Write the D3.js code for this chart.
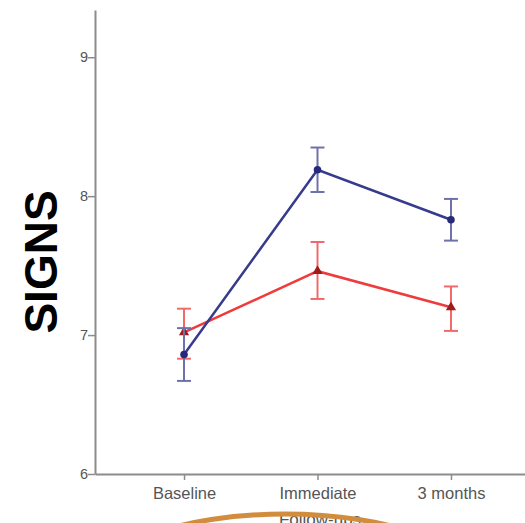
<!DOCTYPE html>
<html>
<head>
<meta charset="utf-8">
<script src="https://cdn.jsdelivr.net/npm/d3@7"></script>
<style>
  body { margin: 0; background: #fff; }
  svg { display: block; font-family: "Liberation Sans", Arial, sans-serif; }
</style>
</head>
<body>
<div class="chart"></div>
<script>
// time points
const followUps = ["Baseline", "Immediate", "3 months"];

// blue group: mean, lower, upper
const blueMean = [6.86, 8.19, 7.83];
const blueLow = [6.67, 8.03, 7.68];
const blueHigh = [7.05, 8.35, 7.98];

// red group: mean, lower, upper
const redMean = [7.02, 7.46, 7.20];
const redLow = [6.83, 7.26, 7.03];
const redHigh = [7.19, 7.67, 7.35];

const yTicks = [6, 7, 8, 9];

const width = 525, height = 523;

const svg = d3.select(".chart")
  .append("svg")
    .attr("width", width)
    .attr("height", height);

const x = d3.scalePoint()
  .domain(followUps)
  .range([95, 540])
  .padding(0.667);

const y = d3.scaleLinear()
  .domain([6, 9.34])
  .range([474, 10]);

// axes
const yAxis = svg.append("g")
  .attr("transform", "translate(95,0)")
  .call(d3.axisLeft(y).tickValues(yTicks).tickSize(7).tickSizeOuter(0).tickFormat(d3.format("d")));

const xAxis = svg.append("g")
  .attr("transform", "translate(0,474)")
  .call(d3.axisBottom(x).tickSize(6).tickSizeOuter(0).tickPadding(7));

[yAxis, xAxis].forEach(g => {
  g.select(".domain").attr("stroke", "#8c8c8c").attr("stroke-width", 2);
  g.selectAll(".tick line").attr("stroke", "#8c8c8c").attr("stroke-width", 1.5);
  g.selectAll(".tick text").attr("fill", "#555");
});
yAxis.selectAll(".tick text").style("font-size", "14.5px").attr("x", -7);
xAxis.selectAll(".tick text").style("font-size", "16.5px");

// axis titles
svg.append("text")
  .attr("transform", "translate(57,262) rotate(-90)")
  .attr("text-anchor", "middle")
  .style("font-size", "46px")
  .style("font-weight", "bold")
  .attr("fill", "#000")
  .text("SIGNS");

svg.append("text")
  .attr("x", 320)
  .attr("y", 525)
  .attr("text-anchor", "middle")
  .style("font-size", "17px")
  .attr("fill", "#555")
  .text("Follow-ups");

// series
function drawSeries(mean, low, high, lineColor, barColor, markColor, symbol, symSize) {
  const g = svg.append("g");
  const rows = followUps.map((k, i) => ({ k: k, m: mean[i], lo: low[i], hi: high[i] }));

  g.selectAll(".err")
    .data(rows)
    .join("line")
      .attr("x1", d => x(d.k))
      .attr("x2", d => x(d.k))
      .attr("y1", d => y(d.lo))
      .attr("y2", d => y(d.hi))
      .attr("stroke", barColor)
      .attr("stroke-width", 2);

  ["lo", "hi"].forEach(key => {
    g.selectAll(".cap-" + key)
      .data(rows)
      .join("line")
        .attr("x1", d => x(d.k) - 7)
        .attr("x2", d => x(d.k) + 7)
        .attr("y1", d => y(d[key]))
        .attr("y2", d => y(d[key]))
        .attr("stroke", barColor)
        .attr("stroke-width", 2);
  });

  g.append("path")
    .datum(rows)
    .attr("fill", "none")
    .attr("stroke", lineColor)
    .attr("stroke-width", 2.5)
    .attr("d", d3.line().x(d => x(d.k)).y(d => y(d.m)));

  g.selectAll(".mark")
    .data(rows)
    .join("path")
      .attr("transform", d => "translate(" + x(d.k) + "," + y(d.m) + ")")
      .attr("d", d3.symbol().type(symbol).size(symSize))
      .attr("fill", markColor);
}

drawSeries(redMean, redLow, redHigh, "#ef3b3b", "#f06a6a", "#9e1c1c", d3.symbolTriangle, 45);
drawSeries(blueMean, blueLow, blueHigh, "#363b8c", "#6e72aa", "#262a78", d3.symbolCircle, 45);

// orange arc over the bottom
svg.append("ellipse")
  .attr("cx", 285)
  .attr("cy", 593)
  .attr("rx", 200)
  .attr("ry", 79)
  .attr("fill", "none")
  .attr("stroke", "#d18c3e")
  .attr("stroke-width", 5);
</script>
</body>
</html>
